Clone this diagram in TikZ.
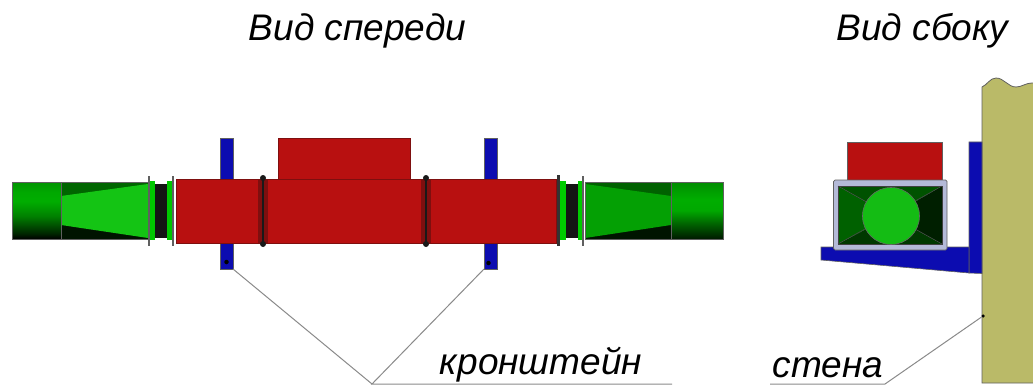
\documentclass[tikz,border=0pt]{standalone}
\usepackage{fontspec}
\setmainfont{Liberation Sans}
\definecolor{ductred}{HTML}{B81010}
\definecolor{darkred}{HTML}{7E0F0F}
\definecolor{ductblue}{HTML}{0C0CB0}
\definecolor{wall}{HTML}{BABA68}
\definecolor{frameblue}{HTML}{B4BAD8}
\definecolor{edgegray}{HTML}{606060}
\definecolor{leadgray}{HTML}{8A8A8A}
\definecolor{brightgreen}{HTML}{14C414}
\definecolor{circlegreen}{HTML}{14BC14}
\definecolor{midgreen}{HTML}{04A004}
\pgfdeclareverticalshading{ductL}{100bp}{
  color(0bp)=(black); color(25bp)=(black); color(30bp)=(black!85!green);
  color(45bp)=(green!50!black); color(58bp)=(green!68!black); color(66bp)=(green!66!black); color(75bp)=(green!58!black); color(100bp)=(green!58!black)}
\pgfdeclareverticalshading{ductR}{100bp}{
  color(0bp)=(black); color(25bp)=(black!90!green); color(38bp)=(green!38!black);
  color(50bp)=(green!66!black); color(60bp)=(green!68!black); color(75bp)=(green!55!black); color(100bp)=(green!55!black)}
\tikzset{
  x=1pt,y=-1pt,
  redpart/.style={fill=ductred,draw=darkred,line width=.6},
  bluepart/.style={fill=ductblue,draw=edgegray,line width=.6},
  flange/.style={draw=edgegray,line width=1.6},
  clampband/.style={draw=darkred,line width=10},
  clampcore/.style={draw=black!90,line width=2.4},
  knob/.style={fill=black!90},
  leader/.style={draw=leadgray,line width=1},
  lbl/.style={font=\itshape\fontsize{37}{40}\selectfont,inner sep=0,text=black,anchor=base},
  pin/.style={circle,fill=black,inner sep=0,minimum size=4.5}
}
\begin{document}
\begin{tikzpicture}
\useasboundingbox (0,0) rectangle (1033,385);
% left pipe
\fill[green!40!black] (61,182) rectangle (148,205);
\fill[black!92!green] (61,215) rectangle (148,239);
\shade[shading=ductL] (12,182) rectangle (61,239);
\fill[brightgreen] (61,196) -- (148,184) -- (148,238) -- (61,225) -- cycle;
\draw[edgegray,line width=.8] (12,182) rectangle (148,239) (61,182) -- (61,239);
\fill[green!78!black] (150,181) rectangle (155,240);
\fill[black!92] (155,184) rectangle (167,238);
\fill[green!78!black] (167,181) rectangle (172,240);
\draw[flange] (149,176) -- (149,246);
\draw[flange] (173,176) -- (173,246);
% right pipe
\fill[black!62!green] (585,182) rectangle (671,205);
\fill[black!92!green] (585,215) rectangle (671,239);
\shade[shading=ductR] (671,182) rectangle (723,239);
\fill[midgreen] (585,184) -- (671,196) -- (671,225) -- (585,238) -- cycle;
\draw[edgegray,line width=.8] (585,182) rectangle (723,239) (671,182) -- (671,239);
\fill[green!80!black] (560,181) rectangle (566,240);
\fill[black!92] (566,184) rectangle (578,238);
\fill[green!80!black] (578,181) rectangle (583,240);
\draw[flange] (583,176) -- (583,246);
% front brackets
\draw[bluepart] (220,138) rectangle (233,269);
\draw[bluepart] (484,138) rectangle (497,269);
% red body
\draw[redpart] (278,138) rectangle (410,179);
\draw[redpart] (176,179) rectangle (556,243);
\draw[black!80,line width=3] (558,175) -- (558,246);
\foreach \cx in {263,426}{
  \draw[clampband] (\cx,179) -- (\cx,243);
  \draw[clampcore] (\cx,178) -- (\cx,244);
  \fill[knob] (\cx,178) circle (3);
  \fill[knob] (\cx,244) circle (3);
}
\node[pin] (pinA) at (226.5,262) {};
\node[pin] (pinB) at (488.5,263) {};
% side view: wall
\draw[fill=wall,draw=edgegray,line width=.8] (1033,83) .. controls (1025,83) and (1022,87) .. (1016,87) .. controls (1008,87) and (1004,78) .. (996,78) .. controls (990,78) and (987,85) .. (982,87) -- (982,383) -- (1033,383);
% side view: bracket
\draw[bluepart] (969,142) -- (982,142) -- (982,273.5) -- (969,273) -- cycle;
\draw[bluepart] (821,247) -- (969,247) -- (969,273) -- (821,260) -- cycle;
\draw[redpart,draw=edgegray] (847,142) rectangle (942,181);
% side view: duct section
\draw[fill=frameblue,draw=edgegray,line width=.7,rounded corners=1.5] (833.5,180) rectangle (947,250);
\fill[green!38!black] (838,186) -- (891,216) -- (838,244) -- cycle;
\fill[green!32!black] (838,186) -- (942,186) -- (891,216) -- cycle;
\fill[black!88!green] (942,186) -- (942,244) -- (891,216) -- cycle;
\fill[green!22!black] (838,244) -- (942,244) -- (891,216) -- cycle;
\draw[black!70,line width=.5] (838,186) -- (942,244) (942,186) -- (838,244);
\draw[black!75,line width=.6] (838,186) rectangle (942,244);
\draw[fill=circlegreen,draw=black!60,line width=.6] (891,216) circle (28.5);
% labels
\node[lbl] (frontTitle) at (357.5,41) {Вид спереди};
\node[lbl] (sideTitle) at (922.5,41) {Вид сбоку};
\node[lbl] (bracketLbl) at (541,374.5) {кронштейн};
\node[lbl] (wallLbl) at (828,377.5) {стена};
% leaders
\coordinate (joinA) at (372,384);
\coordinate (endA) at (672,384);
\coordinate (joinB) at (885,384);
\coordinate (endB) at (770,384);
\node[pin,minimum size=3.5] (pinW) at (983,316) {};
\draw[leader] (pinA) ++(6.5,7) -- (joinA);
\draw[leader] (pinB) ++(-4.5,6) -- (joinA) -- (endA);
\draw[leader] (pinW) -- (joinB) -- (endB);
\end{tikzpicture}
\end{document}
